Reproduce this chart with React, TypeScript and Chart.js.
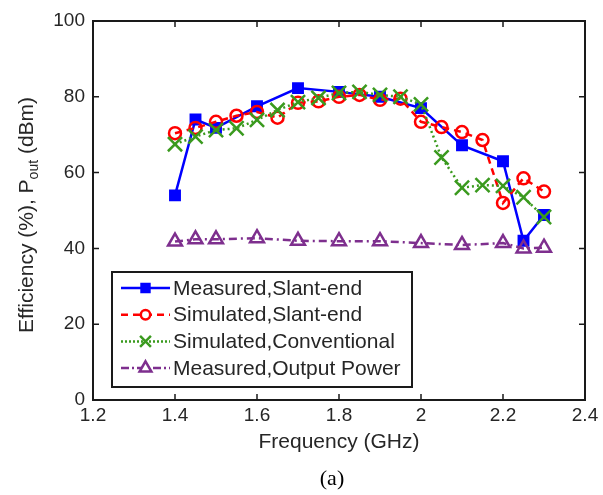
import React, { useEffect, useRef } from 'react';
import { Chart, registerables } from 'chart.js';
Chart.register(...registerables);

// ---- data ----
const freqMeasured = [1.4, 1.45, 1.5, 1.6, 1.7, 1.8, 1.9, 2.0, 2.1, 2.2, 2.25, 2.3];
const measuredSlant = [54, 74, 71.8, 77.5, 82.3, 81.3, 80, 77, 67.2, 63, 42, 48.8];
const freqSim = [1.4, 1.45, 1.5, 1.55, 1.6, 1.65, 1.7, 1.75, 1.8, 1.85, 1.9, 1.95, 2.0, 2.05, 2.1, 2.15, 2.2, 2.25, 2.3];
const simulatedSlant = [70.4, 71.8, 73.4, 75, 76, 74.5, 78.4, 78.8, 80, 80.5, 79.2, 79.5, 73.4, 72, 70.7, 68.6, 52, 58.5, 55];
const simulatedConv = [67.5, 69.5, 71.2, 71.7, 73.9, 76.5, 78.6, 79.7, 81, 81.3, 80.5, 80, 78, 64, 56, 56.7, 56.5, 53.5, 48.3];
const outputPower = [41.8, 42.4, 42.4, 42.7, 42, 41.9, 41.9, 41.4, 40.9, 41.4, 40, 40.2];
const legendLabels = ['Measured,Slant-end', 'Simulated,Slant-end', 'Simulated,Conventional', 'Measured,Output Power'];
const xTitle = 'Frequency (GHz)';
const yTitleMain = 'Efficiency (%), P';
const yTitleSub = 'out';
const yTitleEnd = ' (dBm)';
const caption = '(a)';

const FONT = '"Liberation Sans", Arial, sans-serif';
const TEXT = '#262626';

const BLUE = '#0000ff';
const RED = '#ff0000';
const GREEN = '#3a9a1e';
const PURPLE = '#7e2f8e';

function drawMarker(ctx: CanvasRenderingContext2D, style: string, x: number, y: number, r: number, color: string, lw: number) {
  ctx.save();
  ctx.setLineDash([]);
  ctx.strokeStyle = color;
  ctx.fillStyle = color;
  ctx.lineWidth = lw;
  ctx.beginPath();
  if (style === 'rect') {
    const s = r * Math.SQRT1_2;
    ctx.rect(x - s, y - s, 2 * s, 2 * s);
    ctx.fill();
    ctx.stroke();
  } else if (style === 'circle') {
    ctx.arc(x, y, r, 0, Math.PI * 2);
    ctx.fillStyle = '#fff';
    ctx.fill();
    ctx.stroke();
  } else if (style === 'crossRot') {
    const s = r * Math.SQRT1_2;
    ctx.moveTo(x - s, y - s); ctx.lineTo(x + s, y + s);
    ctx.moveTo(x - s, y + s); ctx.lineTo(x + s, y - s);
    ctx.stroke();
  } else if (style === 'triangle') {
    ctx.moveTo(x, y - r);
    ctx.lineTo(x + r * 0.866, y + r * 0.5);
    ctx.lineTo(x - r * 0.866, y + r * 0.5);
    ctx.closePath();
    ctx.fillStyle = '#fff';
    ctx.fill();
    ctx.stroke();
  }
  ctx.restore();
}

export default function App() {
  const ref = useRef<HTMLCanvasElement>(null);
  useEffect(() => {
    if (!ref.current) return;
    const toXY = (xs: number[], ys: number[]) => xs.map((x, i) => ({ x, y: ys[i] }));

    const legendStyles = [
      { color: BLUE, dash: [] as number[], lw: 2.5, marker: 'rect', r: 7, mlw: 2 },
      { color: RED, dash: [7, 5], lw: 2.5, marker: 'circle', r: 5.5, mlw: 2.5 },
      { color: GREEN, dash: [2, 2], lw: 2.5, marker: 'crossRot', r: 9, mlw: 2.5 },
      { color: PURPLE, dash: [8, 3, 2, 3], lw: 2.5, marker: 'triangle', r: 8, mlw: 2.5 },
    ];

    const decor = {
      id: 'decor',
      afterDatasetsDraw(chart: any) {
        const ctx: CanvasRenderingContext2D = chart.ctx;
        const { left, right, top, bottom } = chart.chartArea;
        const xs = chart.scales.x;
        const ys = chart.scales.y;
        ctx.save();
        ctx.setLineDash([]);
        ctx.strokeStyle = '#1a1a1a';
        ctx.lineWidth = 2;
        ctx.strokeRect(left, top, right - left, bottom - top);
        ctx.lineWidth = 1.5;
        ctx.beginPath();
        xs.ticks.forEach((t: any) => {
          const px = xs.getPixelForValue(t.value);
          ctx.moveTo(px, bottom); ctx.lineTo(px, bottom - 6);
          ctx.moveTo(px, top); ctx.lineTo(px, top + 6);
        });
        ys.ticks.forEach((t: any) => {
          const py = ys.getPixelForValue(t.value);
          ctx.moveTo(left, py); ctx.lineTo(left + 6, py);
          ctx.moveTo(right, py); ctx.lineTo(right - 6, py);
        });
        ctx.stroke();

        // legend
        const lx = 112, ly = 272, lw = 300, lh = 115;
        ctx.fillStyle = '#fff';
        ctx.fillRect(lx, ly, lw, lh);
        ctx.strokeStyle = '#1a1a1a';
        ctx.lineWidth = 2;
        ctx.strokeRect(lx, ly, lw, lh);
        ctx.font = `21px ${FONT}`;
        ctx.textBaseline = 'middle';
        ctx.textAlign = 'left';
        legendLabels.forEach((label, i) => {
          const st = legendStyles[i];
          const cy = 288 + i * 26.7;
          ctx.save();
          ctx.strokeStyle = st.color;
          ctx.lineWidth = st.lw;
          ctx.setLineDash(st.dash);
          ctx.beginPath();
          ctx.moveTo(121, cy); ctx.lineTo(170, cy);
          ctx.stroke();
          ctx.restore();
          drawMarker(ctx, st.marker, 145.5, cy, st.r * 0.85, st.color, st.mlw);
          ctx.fillStyle = TEXT;
          ctx.fillText(label, 173, cy + 1);
        });

        // x title
        ctx.fillStyle = TEXT;
        ctx.font = `21px ${FONT}`;
        ctx.textAlign = 'center';
        ctx.textBaseline = 'alphabetic';
        ctx.fillText(xTitle, (left + right) / 2, 448);

        // y title with subscript
        ctx.save();
        ctx.translate(33, 215);
        ctx.rotate(-Math.PI / 2);
        ctx.textAlign = 'left';
        ctx.font = `21px ${FONT}`;
        const w1 = ctx.measureText(yTitleMain).width;
        const w3 = ctx.measureText(yTitleEnd).width;
        ctx.font = `14px ${FONT}`;
        const w2 = ctx.measureText(yTitleSub).width;
        let sx = -(w1 + w2 + w3) / 2;
        ctx.font = `21px ${FONT}`;
        ctx.fillText(yTitleMain, sx, 0);
        sx += w1;
        ctx.font = `14px ${FONT}`;
        ctx.fillText(yTitleSub, sx, 4.5);
        sx += w2;
        ctx.font = `21px ${FONT}`;
        ctx.fillText(yTitleEnd, sx, 0);
        ctx.restore();

        // caption
        ctx.fillStyle = '#000';
        ctx.font = `22px "Liberation Serif", "Times New Roman", serif`;
        ctx.textAlign = 'center';
        ctx.fillText(caption, 332, 485);
        ctx.restore();
      },
    };

    const chart = new Chart(ref.current, {
      type: 'line',
      data: {
        datasets: [
          {
            label: legendLabels[0],
            data: toXY(freqMeasured, measuredSlant),
            borderColor: BLUE, backgroundColor: BLUE, borderWidth: 2.5,
            pointStyle: 'rect', pointRadius: 7, pointBorderWidth: 2,
            pointBackgroundColor: BLUE, pointBorderColor: BLUE,
            order: 4, tension: 0,
          },
          {
            label: legendLabels[1],
            data: toXY(freqSim, simulatedSlant),
            borderColor: RED, backgroundColor: 'rgba(0,0,0,0)', borderWidth: 2.5,
            borderDash: [7, 5],
            pointStyle: 'circle', pointRadius: 6, pointBorderWidth: 2.5,
            pointBackgroundColor: 'rgba(0,0,0,0)', pointBorderColor: RED,
            order: 3, tension: 0,
          },
          {
            label: legendLabels[2],
            data: toXY(freqSim, simulatedConv),
            borderColor: GREEN, backgroundColor: GREEN, borderWidth: 2.5,
            borderDash: [2, 3],
            pointStyle: 'crossRot', pointRadius: 10, pointBorderWidth: 2.5,
            pointBorderColor: GREEN,
            order: 2, tension: 0,
          },
          {
            label: legendLabels[3],
            data: toXY(freqMeasured, outputPower),
            borderColor: PURPLE, backgroundColor: 'rgba(0,0,0,0)', borderWidth: 2.5,
            borderDash: [8, 4, 2, 4],
            pointStyle: 'triangle', pointRadius: 8, pointBorderWidth: 2.5,
            pointBackgroundColor: 'rgba(0,0,0,0)', pointBorderColor: PURPLE,
            order: 1, tension: 0,
          },
        ],
      },
      options: {
        responsive: false,
        animation: false,
        devicePixelRatio: 1,
        layout: { padding: { top: 21, right: 18, left: 0, bottom: 0 } },
        plugins: { legend: { display: false }, tooltip: { enabled: false }, title: { display: false } },
        scales: {
          x: {
            type: 'linear', min: 1.2, max: 2.4,
            grid: { display: false, drawTicks: false },
            border: { display: false },
            ticks: {
              stepSize: 0.2, padding: 4, maxRotation: 0, color: TEXT,
              font: { family: FONT, size: 19 },
              callback: (v: any) => Number(Number(v).toFixed(1)).toString(),
            },
            afterFit: (s: any) => { s.height = 95; },
          },
          y: {
            type: 'linear', min: 0, max: 100,
            grid: { display: false, drawTicks: false },
            border: { display: false },
            ticks: {
              stepSize: 20, padding: 8, color: TEXT,
              font: { family: FONT, size: 19 },
            },
            afterFit: (s: any) => { s.width = 93; },
          },
        },
      } as any,
      plugins: [decor],
    });
    return () => chart.destroy();
  }, []);

  return (
    <div style={{ position: 'absolute', left: 0, top: 0, width: 603, height: 495, background: '#fff' }}>
      <canvas ref={ref} width={603} height={495} />
    </div>
  );
}
